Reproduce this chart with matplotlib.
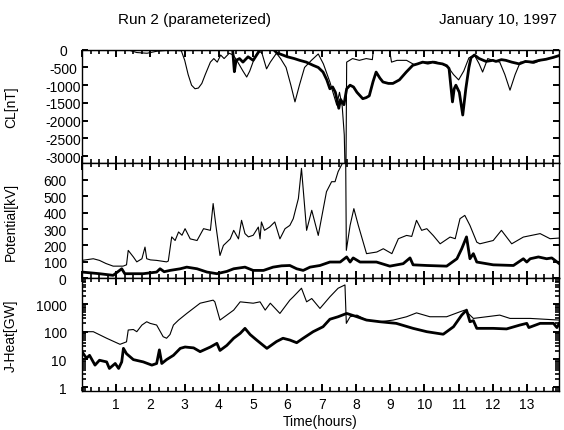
import numpy as np
import matplotlib
matplotlib.use("Agg")
import matplotlib.pyplot as plt
from matplotlib.ticker import MultipleLocator, LogLocator, NullFormatter

plt.rcParams['font.family'] = ['Liberation Sans', 'DejaVu Sans']
plt.rcParams['axes.unicode_minus'] = False
plt.rcParams['xtick.direction'] = 'in'
plt.rcParams['ytick.direction'] = 'in'
plt.rcParams['xtick.top'] = True
plt.rcParams['ytick.right'] = True
plt.rcParams['xtick.major.size'] = 5.0
plt.rcParams['ytick.major.size'] = 4.5
plt.rcParams['xtick.minor.size'] = 3.0
plt.rcParams['ytick.minor.size'] = 3.0
plt.rcParams['xtick.major.width'] = 1.4
plt.rcParams['ytick.major.width'] = 1.4
plt.rcParams['xtick.minor.width'] = 1.2
plt.rcParams['ytick.minor.width'] = 1.2
plt.rcParams['xtick.labelsize'] = 10
plt.rcParams['ytick.labelsize'] = 10
plt.rcParams['ytick.major.pad'] = 11
plt.rcParams['xtick.major.pad'] = 4

# ---------------- data (time in hours) ----------------
# CL [nT]
cl_thin_t = [0, 1.4, 1.6, 1.9, 2.2, 2.6, 2.9, 3.0, 3.1, 3.2, 3.3, 3.4, 3.5, 3.6, 3.75, 3.85, 3.95,
             4.05, 4.15, 4.3, 4.42, 4.55, 4.7, 4.81, 4.9, 5.05, 5.15, 5.25, 5.39, 5.5, 5.68, 5.8,
             5.96, 6.1, 6.22, 6.35, 6.5, 6.7, 6.9, 7.05, 7.24, 7.44, 7.52, 7.6, 7.66, 7.68, 7.71,
             7.73, 7.9, 8.1, 8.3, 8.48, 8.51, 8.98, 9.04, 9.2, 9.48, 9.7, 10.0, 10.3, 10.5, 10.7,
             10.85, 11.0, 11.15, 11.3, 11.46, 11.6, 11.7, 11.85, 12.0, 12.2, 12.35, 12.5, 12.65,
             12.8, 13.0, 13.2, 13.4, 13.6, 13.8, 13.94]
cl_thin_v = [0, -20, -80, -100, -40, -10, -30, -300, -700, -1000, -1100, -1080, -950, -700, -350,
             -250, -350, -150, -250, -100, -150, -350, -600, -770, -600, -200, -50, -80, -540,
             -350, -100, -250, -500, -1000, -1470, -1000, -500, -300, -120, -400, -910, -1560,
             -1200, -1600, -2400, -3300, -3300, -350, -250, -300, -250, -280, 0, 0, -350, -300,
             -300, -420, -350, -330, -400, -500, -700, -850, -600, -230, -150, -400, -630, -250,
             -300, -350, -700, -1140, -700, -350, -350, -380, -300, -250, -220, -150]

cl_thick_t = [0, 4.4, 4.45, 4.5, 4.6, 4.7, 4.85, 5.0, 5.1, 5.2, 5.6, 5.7, 5.78, 6.0, 6.2, 6.36,
              6.55, 6.75, 6.9, 7.04, 7.15, 7.24, 7.32, 7.4, 7.5, 7.55, 7.65, 7.73, 7.83, 7.93,
              8.03, 8.2, 8.3, 8.39, 8.5, 8.59, 8.7, 8.79, 8.95, 9.08, 9.27, 9.47, 9.66, 9.8,
              9.95, 10.1, 10.24, 10.4, 10.53, 10.65, 10.72, 10.82, 10.87, 10.92, 11.02, 11.12,
              11.21, 11.3, 11.36, 11.46, 11.6, 11.8, 12.0, 12.09, 12.25, 12.38, 12.55, 12.77,
              12.95, 13.16, 13.35, 13.55, 13.75, 13.92]
cl_thick_v = [0, 0, -620, -300, -250, -350, -200, -300, -150, 0, 0, -100, -120, -200, -250,
              -300, -350, -440, -500, -630, -850, -1100, -1050, -1200, -1650, -1400, -1550,
              -1100, -1000, -1050, -1200, -1380, -1350, -1300, -900, -630, -800, -910, -950,
              -950, -850, -630, -440, -400, -350, -380, -350, -380, -400, -450, -530, -1470,
              -1100, -1000, -1200, -1840, -1100, -500, -230, -150, -250, -330, -300, -330, -280,
              -300, -350, -400, -330, -350, -300, -270, -220, -170]

# Potential [kV]
pot_thin_t = [0, 0.33, 0.51, 0.7, 0.91, 1.2, 1.3, 1.35, 1.5, 1.6, 1.75, 1.84, 1.89, 2.0, 2.18,
              2.47, 2.52, 2.62, 2.72, 2.82, 2.92, 3.01, 3.16, 3.36, 3.55, 3.75, 3.83, 3.91, 4.03,
              4.13, 4.33, 4.43, 4.57, 4.66, 4.76, 4.86, 5.0, 5.15, 5.2, 5.24, 5.33, 5.48, 5.63,
              5.78, 5.93, 6.07, 6.17, 6.32, 6.41, 6.56, 6.71, 6.9, 7.14, 7.29, 7.39, 7.48, 7.63,
              7.7, 7.72, 7.83, 7.94, 8.07, 8.31, 8.61, 8.8, 9.05, 9.24, 9.48, 9.63, 9.77, 9.92,
              10.07, 10.26, 10.46, 10.75, 10.9, 11.04, 11.18, 11.33, 11.53, 11.62, 12.01, 12.25,
              12.55, 12.89, 13.38, 13.67, 13.94]
pot_thin_v = [109, 119, 109, 90, 74, 74, 82, 170, 130, 100, 119, 190, 119, 112, 109, 100, 105,
              252, 230, 282, 262, 302, 240, 230, 302, 292, 455, 322, 139, 200, 240, 292, 240,
              353, 272, 252, 262, 312, 240, 343, 292, 312, 343, 240, 302, 322, 363, 486, 669,
              292, 414, 261, 527, 588, 588, 649, 710, 760, 170, 322, 424, 322, 150, 160, 180,
              150, 241, 261, 255, 353, 292, 302, 260, 210, 251, 241, 363, 383, 322, 220, 210,
              230, 292, 210, 251, 272, 241, 245]

pot_thick_t = [0, 0.51, 0.91, 1.16, 1.25, 1.79, 2.18, 2.28, 2.4, 2.57, 2.87, 3.06, 3.36, 3.65,
               3.94, 4.23, 4.43, 4.76, 5.0, 5.3, 5.58, 5.83, 6.07, 6.27, 6.46, 6.66, 6.95, 7.24,
               7.54, 7.73, 7.83, 7.92, 8.12, 8.6, 8.99, 9.38, 9.58, 9.67, 10.07, 10.65, 10.95,
               11.09, 11.23, 11.33, 11.43, 11.53, 12.01, 12.6, 12.89, 12.99, 13.09, 13.33, 13.57,
               13.72, 13.94]
pot_thick_v = [38, 28, 18, 58, 28, 28, 38, 58, 40, 48, 58, 68, 58, 38, 28, 42, 58, 68, 48, 48,
               68, 76, 78, 58, 48, 68, 78, 99, 99, 130, 99, 124, 99, 99, 74, 89, 124, 82, 78, 74,
               119, 180, 252, 119, 150, 99, 82, 78, 119, 99, 119, 130, 119, 124, 89]

# J-Heat [GW]
jh_thin_t = [0, 0.33, 0.72, 1.11, 1.3, 1.35, 1.5, 1.6, 1.75, 1.89, 1.99, 2.18, 2.37, 2.47, 2.57,
             2.67, 2.82, 3.06, 3.45, 3.83, 3.88, 4.03, 4.23, 4.43, 4.62, 5.0, 5.2, 5.35, 5.5,
             5.78, 6.07, 6.17, 6.41, 6.56, 6.71, 6.95, 7.24, 7.48, 7.68, 7.72, 7.83, 8.03, 8.31,
             8.7, 9.09, 9.48, 9.77, 10.16, 10.65, 11.04, 11.18, 11.43, 11.82, 12.2, 12.5, 13.09,
             13.94]
jh_thin_v = [100, 100, 58, 35, 43, 115, 120, 100, 174, 229, 200, 174, 66, 58, 79, 174, 263, 457,
             1070, 1380, 1200, 263, 398, 603, 1200, 1070, 1200, 603, 1070, 457, 1380, 1820, 3720,
             1200, 1580, 692, 1820, 3720, 4900, 200, 347, 398, 263, 229, 263, 347, 479, 347, 347,
             525, 603, 302, 347, 398, 302, 302, 263]

jh_thick_t = [0, 0.13, 0.22, 0.38, 0.51, 0.72, 0.8, 0.97, 1.07, 1.16, 1.21, 1.3, 1.5, 1.79, 2.04,
              2.18, 2.26, 2.33, 2.47, 2.67, 2.87, 3.01, 3.26, 3.45, 3.75, 3.94, 4.03, 4.23, 4.43,
              4.62, 4.76, 4.91, 5.1, 5.4, 5.68, 5.87, 6.07, 6.27, 6.46, 6.75, 7.04, 7.24, 7.48,
              7.73, 8.03, 8.31, 8.7, 9.18, 9.67, 10.07, 10.55, 10.85, 11.09, 11.23, 11.33, 11.43,
              11.53, 12.01, 12.4, 12.79, 12.99, 13.05, 13.38, 13.77, 13.87, 13.94]
jh_thick_v = [19, 11, 14, 6.2, 9.3, 8.1, 4.7, 7.1, 4.7, 8.1, 25, 16, 9.8, 8.1, 6.2, 7.1, 22, 7.1,
              9.8, 14, 25, 28, 26, 19, 28, 38, 21, 32, 58, 87, 132, 79, 50, 25, 44, 58, 50, 40,
              58, 100, 151, 282, 347, 457, 347, 263, 229, 200, 132, 100, 81, 151, 398, 603, 229,
              251, 132, 132, 126, 174, 200, 141, 200, 200, 141, 200]

x_ticks = list(range(1, 14))
cl_ticks = [0, -500, -1000, -1500, -2000, -2500, -3000]
pot_ticks = [0, 100, 200, 300, 400, 500, 600]
jh_ticks = [1, 10, 100, 1000]

# ---------------- figure ----------------
W, H = 564, 431
fig = plt.figure(figsize=(W / 100, H / 100), dpi=100)
L = 82 / W
Wd = (559.3 - 82) / W

def box(top, bot):
    return [L, 1 - bot / H, Wd, (bot - top) / H]

ax1 = fig.add_axes(box(50.7, 164.3))
ax2 = fig.add_axes(box(164.3, 279.3))
ax3 = fig.add_axes(box(279.3, 392.0))

thin = dict(color='black', lw=0.8)
thick = dict(color='black', lw=2.0)

ax1.plot(cl_thin_t, cl_thin_v, **thin)
ax1.plot(cl_thick_t, cl_thick_v, **thick)
ax2.plot(pot_thin_t, pot_thin_v, **thin)
ax2.plot(pot_thick_t, pot_thick_v, **thick)
ax3.plot(jh_thin_t, jh_thin_v, **thin)
ax3.plot(jh_thick_t, jh_thick_v, **thick)

ax1.set_ylim(-3200, 0)
ax2.set_ylim(0, 700)
ax3.set_yscale('log')
ax3.set_ylim(0.72, 8500)

ax1.set_yticks(cl_ticks)
ax1.set_yticklabels([str(v) for v in cl_ticks], ha='center')
ax1.tick_params(axis='y', which='major', pad=13.3)
ax2.set_yticks(pot_ticks)
ax2.set_yticklabels([str(v) for v in pot_ticks])
ax3.set_yticks(jh_ticks)
ax3.set_yticklabels([str(v) for v in jh_ticks])
ax3.yaxis.set_minor_locator(LogLocator(base=10, subs=np.arange(2, 10), numticks=20))
ax3.yaxis.set_minor_formatter(NullFormatter())

for ax in (ax1, ax2, ax3):
    ax.set_xlim(0, 13.94)
    ax.xaxis.set_major_locator(MultipleLocator(1))
    ax.xaxis.set_minor_locator(MultipleLocator(0.25))
    for s in ax.spines.values():
        s.set_linewidth(1.0)
    ax.yaxis.set_label_coords(-0.134, 0.5)

ax1.tick_params(axis='x', which='both', labelbottom=False)
ax2.tick_params(axis='x', which='both', labelbottom=False)
ax3.set_xticks(x_ticks)
ax3.set_xticklabels([str(v) for v in x_ticks])

ax1.set_ylabel('CL[nT]', fontsize=10)
ax2.set_ylabel('Potential[kV]', fontsize=10)
ax3.set_ylabel('J-Heat[GW]', fontsize=10)

fig.text(320 / W, 1 - 422 / H, 'Time(hours)', ha='center', va='center', fontsize=10)
fig.text(118 / W, 1 - 20 / H, 'Run 2 (parameterized)', ha='left', va='center', fontsize=11)
fig.text(557 / W, 1 - 20 / H, 'January 10, 1997', ha='right', va='center', fontsize=11)

fig.savefig('out.png', dpi=100)
